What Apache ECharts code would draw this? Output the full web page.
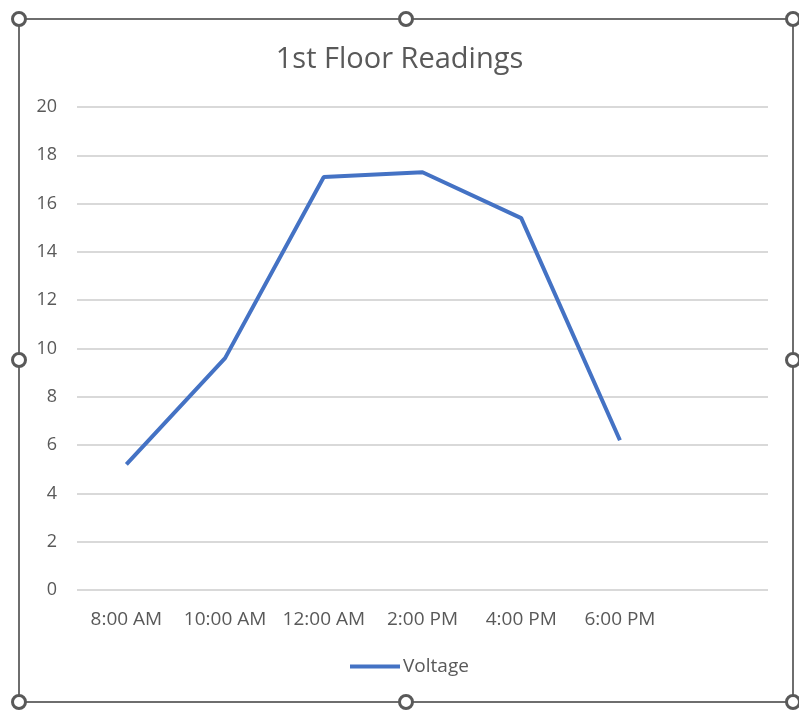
<!DOCTYPE html>
<html>
<head>
<meta charset="utf-8">
<script src="https://cdn.jsdelivr.net/npm/echarts@6/dist/echarts.min.js"></script>
<style>
  html, body { margin: 0; padding: 0; background: #fff; }
  #chart { width: 799px; height: 715px; }
</style>
</head>
<body>
<div id="chart"></div>
<script>
// chart data
var categories = ['8:00 AM', '10:00 AM', '12:00 AM', '2:00 PM', '4:00 PM', '6:00 PM', ''];
var voltage = [5.2, 9.6, 17.1, 17.3, 15.4, 6.2, null];
var seriesName = 'Voltage';

var textColor = '#595959';
var fontFam = '"Open Sans", "Noto Sans", sans-serif';

var myChart = echarts.init(document.getElementById('chart'));

// selection frame + handles (Excel look)
var handles = [[19, 19], [406, 19], [793, 19], [19, 360], [793, 360], [19, 702], [406, 702], [793, 702]];
var graphics = [{
    type: 'rect',
    shape: { x: 19, y: 19, width: 774, height: 683 },
    style: { fill: 'none', stroke: '#6e6e6e', lineWidth: 2 },
    z: 10
}];
handles.forEach(function (h) {
    graphics.push({
        type: 'circle',
        shape: { cx: h[0], cy: h[1], r: 6.5 },
        style: { fill: '#fff', stroke: '#595959', lineWidth: 3 },
        z: 11
    });
});

var option = {
    animation: false,
    title: {
        text: '1st Floor Readings',
        left: 'center',
        top: 40,
        textStyle: { color: textColor, fontSize: 29, fontWeight: 'normal', fontFamily: fontFam }
    },
    legend: {
        data: [seriesName],
        bottom: 34,
        left: 345,
        itemWidth: 50,
        itemHeight: 4,
        itemGap: 4,
        icon: 'rect',
        textStyle: { color: textColor, fontSize: 19, fontFamily: fontFam, padding: [0, 0, 0, -2] }
    },
    grid: { left: 77, right: 31, top: 107, bottom: 125 },
    xAxis: {
        type: 'category',
        data: categories,
        boundaryGap: true,
        axisLine: { show: false },
        axisTick: { show: false },
        axisLabel: { color: textColor, fontSize: 19, fontFamily: fontFam, margin: 20, interval: 0 }
    },
    yAxis: {
        type: 'value',
        min: 0,
        max: 20,
        interval: 2,
        axisLine: { show: false },
        axisTick: { show: false },
        axisLabel: { color: textColor, fontSize: 18, fontFamily: fontFam, margin: 20 },
        splitLine: { lineStyle: { color: '#d9d9d9', width: 2 } }
    },
    series: [{
        name: seriesName,
        type: 'line',
        data: voltage,
        color: '#4472C4',
        showSymbol: false,
        symbol: 'none',
        lineStyle: { width: 4, color: '#4472C4' }
    }],
    graphic: graphics
};

myChart.setOption(option);
</script>
</body>
</html>
